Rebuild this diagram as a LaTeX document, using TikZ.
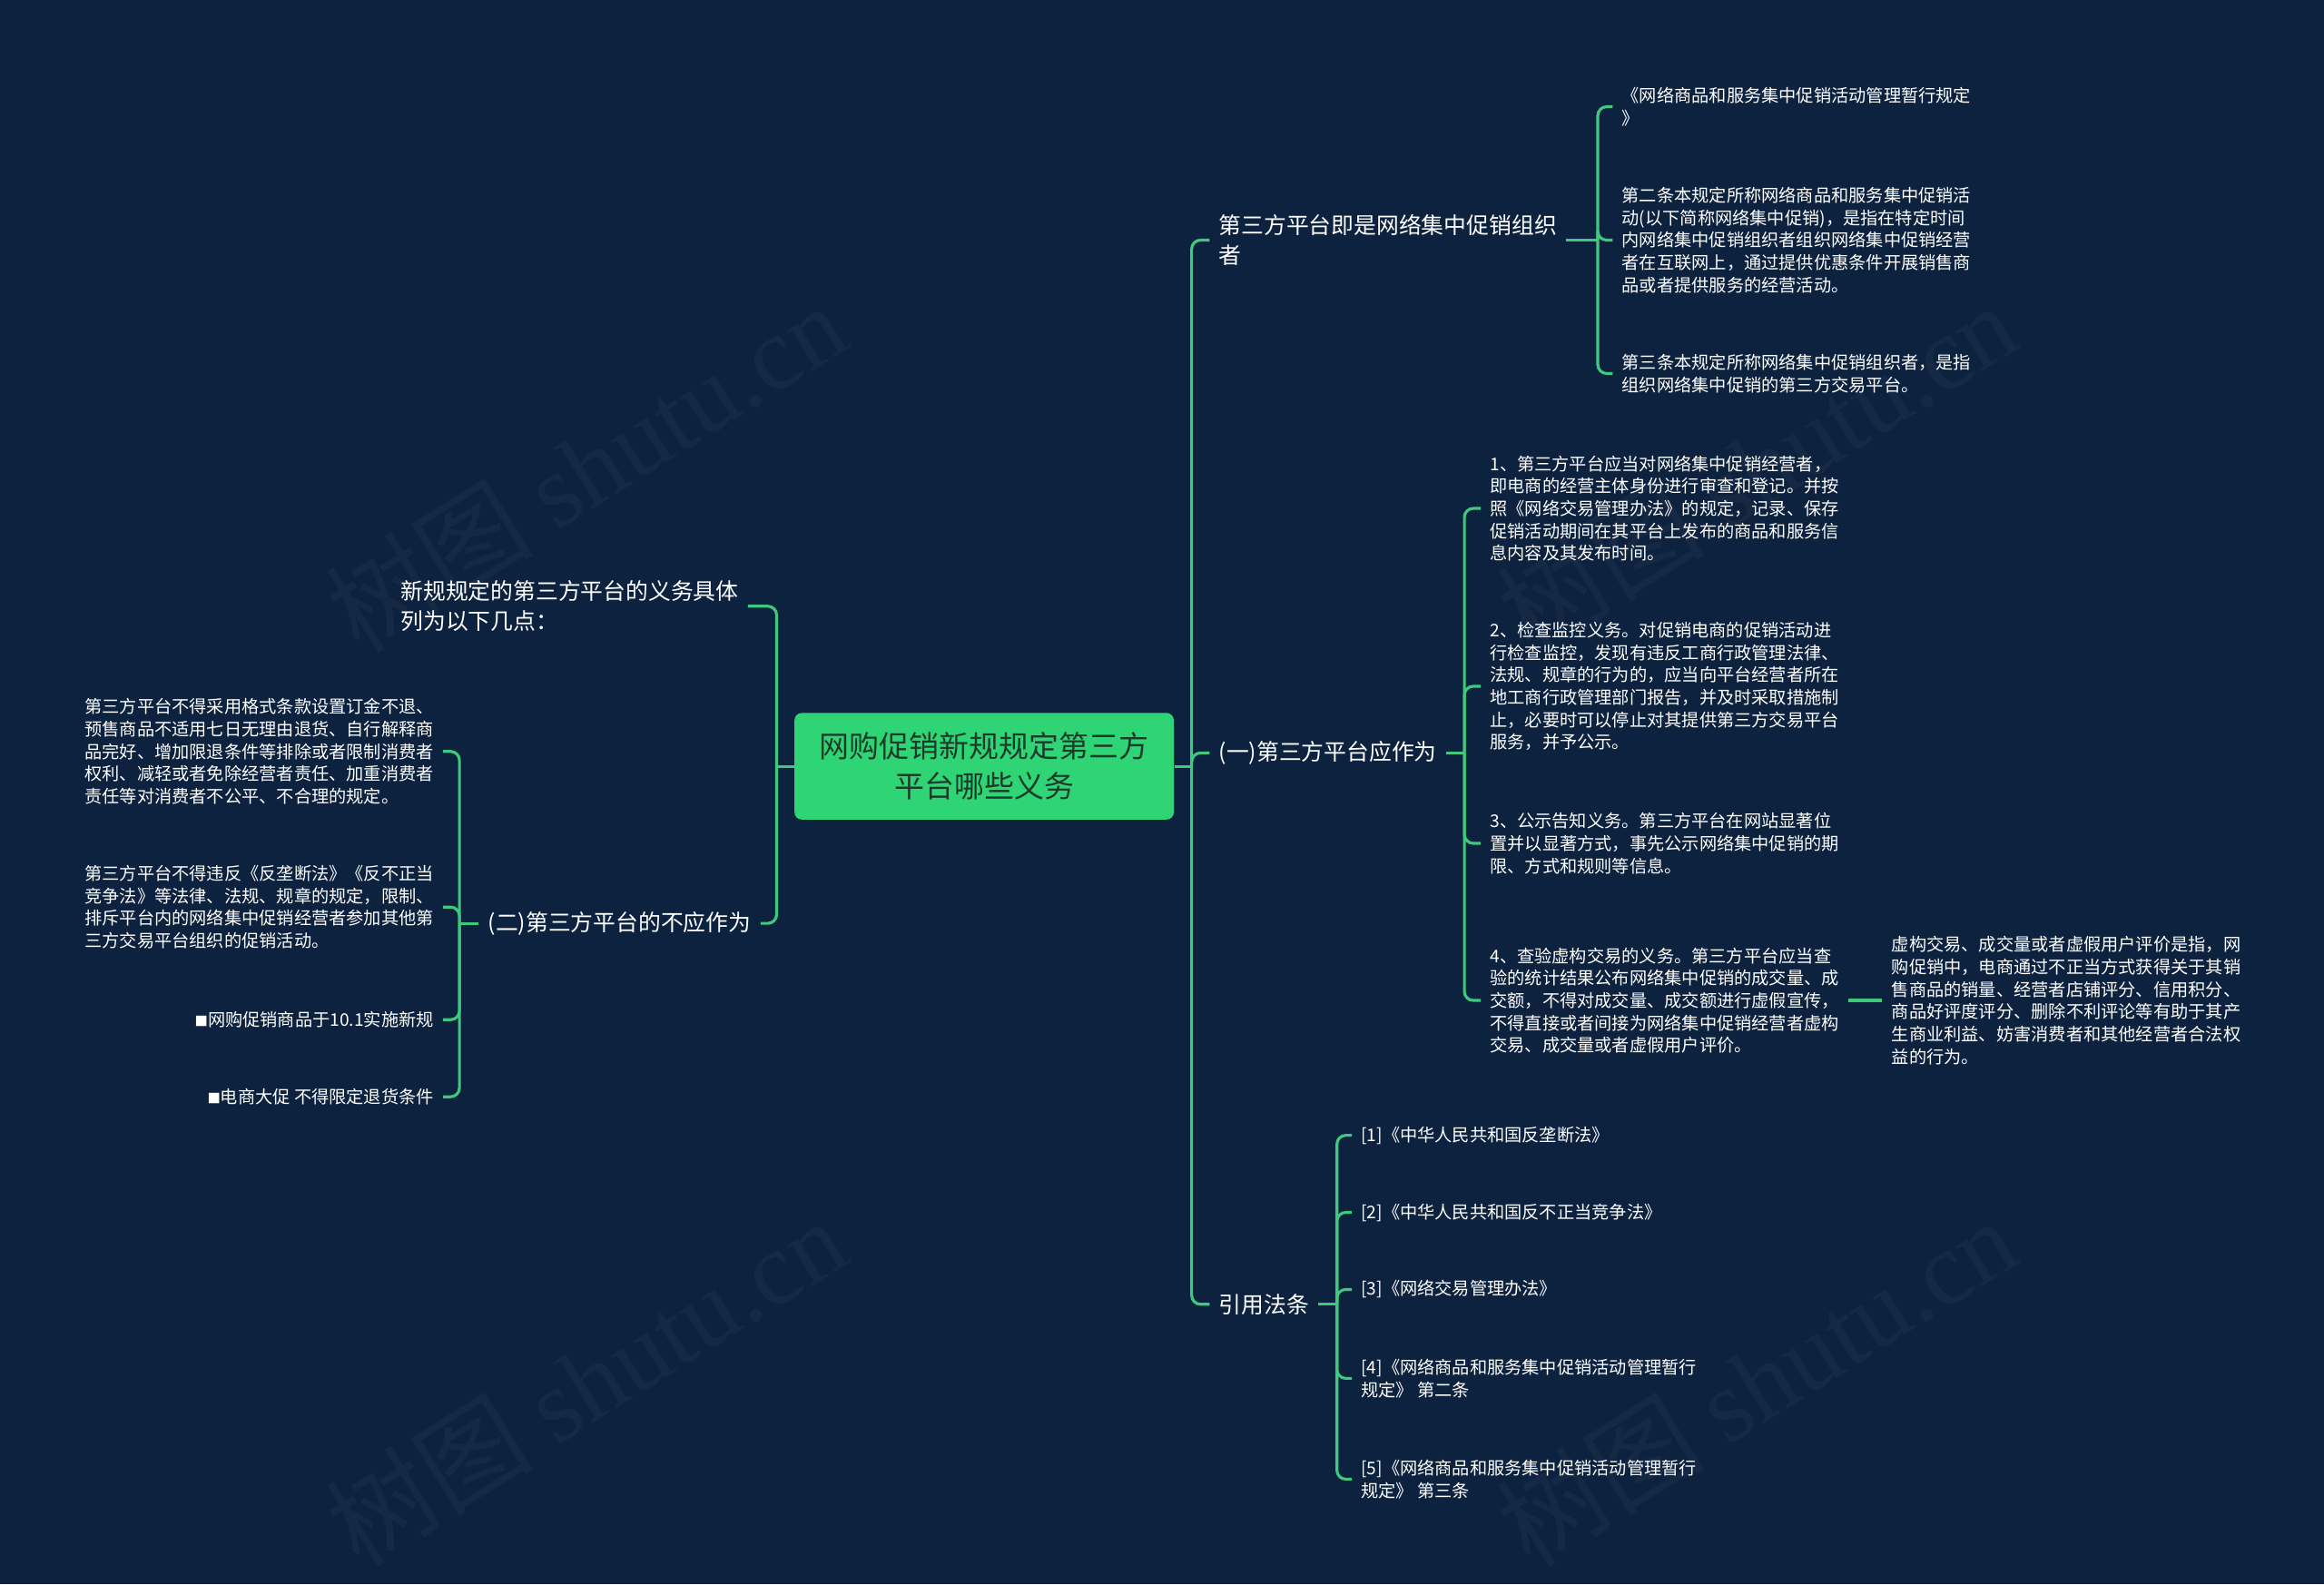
\documentclass[tikz,border=0pt]{standalone}
\usepackage{fontspec}
\setmainfont{Noto Sans CJK SC}
\newfontfamily\wmserif{Liberation Serif}
\definecolor{bgnavy}{HTML}{0D223F}
\definecolor{linkgreen}{HTML}{3FC97D}
\definecolor{rootgreen}{HTML}{2FD574}
\definecolor{roottext}{HTML}{1C3B2B}
\newcommand{\sqmark}{{\fontsize{5}{5}\selectfont ■}}

\begin{document}
\begin{tikzpicture}[x=0.02cm, y=-0.02cm,
  small/.style={text=white, inner xsep=0.12cm, inner ysep=0pt, align=left, font=\fontsize{6.7}{8.6}\selectfont},
  mid/.style={text=white, inner xsep=0.12cm, inner ysep=0pt, align=left, font=\fontsize{8.65}{11.4}\selectfont},
  rootbox/.style={fill=rootgreen, rounded corners=0.1cm, text=roottext, minimum width=5.12cm, minimum height=1.44cm, align=center, font=\fontsize{11.5}{15.4}\selectfont},
  link/.style={draw=linkgreen, line width=1.1pt, rounded corners=0.12cm},
  wmark/.style={text=white, text opacity=0.035, rotate=32, font=\fontsize{40}{40}\selectfont}]
  \useasboundingbox (0,0) rectangle (1568,1069);
  \fill[bgnavy] (0,0) rectangle (1568,1069);
  \node[wmark] (wm1) at (395,315) {树图 {\wmserif shutu.cn}};
  \node[wmark] (wm2) at (395,932) {树图 {\wmserif shutu.cn}};
  \node[wmark] (wm3) at (1185,315) {树图 {\wmserif shutu.cn}};
  \node[wmark] (wm4) at (1185,932) {树图 {\wmserif shutu.cn}};

  \node[rootbox] (root) at (664,517) {网购促销新规规定第三方\\平台哪些义务};

  \node[mid, anchor=west] (r1) at (816,162) {第三方平台即是网络集中促销组织\\者};
  \node[mid, anchor=west] (r2) at (816,508) {(一)第三方平台应作为};
  \node[mid, anchor=west] (r3) at (816,880) {引用法条};

  \node[small, anchor=west] (c1) at (1088,72) {《网络商品和服务集中促销活动管理暂行规定\\》};
  \node[small, anchor=west] (c2) at (1088,162) {第二条本规定所称网络商品和服务集中促销活\\动(以下简称网络集中促销)，是指在特定时间\\内网络集中促销组织者组织网络集中促销经营\\者在互联网上，通过提供优惠条件开展销售商\\品或者提供服务的经营活动。};
  \node[small, anchor=west] (c3) at (1088,252) {第三条本规定所称网络集中促销组织者，是指\\组织网络集中促销的第三方交易平台。};

  \node[small, anchor=west] (a1) at (999,343) {1、第三方平台应当对网络集中促销经营者，\\即电商的经营主体身份进行审查和登记。并按\\照《网络交易管理办法》的规定，记录、保存\\促销活动期间在其平台上发布的商品和服务信\\息内容及其发布时间。};
  \node[small, anchor=west] (a2) at (999,463) {2、检查监控义务。对促销电商的促销活动进\\行检查监控，发现有违反工商行政管理法律、\\法规、规章的行为的，应当向平台经营者所在\\地工商行政管理部门报告，并及时采取措施制\\止，必要时可以停止对其提供第三方交易平台\\服务，并予公示。};
  \node[small, anchor=west] (a3) at (999,569) {3、公示告知义务。第三方平台在网站显著位\\置并以显著方式，事先公示网络集中促销的期\\限、方式和规则等信息。};
  \node[small, anchor=west] (a4) at (999,675) {4、查验虚构交易的义务。第三方平台应当查\\验的统计结果公布网络集中促销的成交量、成\\交额，不得对成交量、成交额进行虚假宣传，\\不得直接或者间接为网络集中促销经营者虚构\\交易、成交量或者虚假用户评价。};
  \node[small, anchor=west] (d1) at (1270,675) {虚构交易、成交量或者虚假用户评价是指，网\\购促销中，电商通过不正当方式获得关于其销\\售商品的销量、经营者店铺评分、信用积分、\\商品好评度评分、删除不利评论等有助于其产\\生商业利益、妨害消费者和其他经营者合法权\\益的行为。};

  \node[small, anchor=west] (e1) at (912,766) {[1]《中华人民共和国反垄断法》};
  \node[small, anchor=west] (e2) at (912,818) {[2]《中华人民共和国反不正当竞争法》};
  \node[small, anchor=west] (e3) at (912,870) {[3]《网络交易管理办法》};
  \node[small, anchor=west] (e4) at (912,930) {[4]《网络商品和服务集中促销活动管理暂行\\规定》 第二条};
  \node[small, anchor=west] (e5) at (912,998) {[5]《网络商品和服务集中促销活动管理暂行\\规定》 第三条};

  \node[mid, anchor=west] (l1) at (264,409) {新规规定的第三方平台的义务具体\\列为以下几点：};
  \node[mid, anchor=west] (l2) at (323,623) {(二)第三方平台的不应作为};

  \node[small, anchor=east] (b1) at (299,507) {第三方平台不得采用格式条款设置订金不退、\\预售商品不适用七日无理由退货、自行解释商\\品完好、增加限退条件等排除或者限制消费者\\权利、减轻或者免除经营者责任、加重消费者\\责任等对消费者不公平、不合理的规定。};
  \node[small, anchor=east] (b2) at (299,612) {第三方平台不得违反《反垄断法》《反不正当\\竞争法》等法律、法规、规章的规定，限制、\\排斥平台内的网络集中促销经营者参加其他第\\三方交易平台组织的促销活动。};
  \node[small, anchor=east] (b3) at (299,688) {\sqmark 网购促销商品于10.1实施新规};
  \node[small, anchor=east] (b4) at (299,740) {\sqmark 电商大促 不得限定退货条件};

  \coordinate (jr) at (804,517);
  \coordinate (jl) at (524,517);
  \coordinate (j1) at (1078,162);
  \coordinate (j2) at (988,508);
  \coordinate (j3) at (902,880);
  \coordinate (j4) at (310,623);

  \draw[link] (root.east) -- (jr);
  \foreach \n in {r1,r2,r3} \draw[link] (jr) |- (\n.west);
  \draw[link] (root.west) -- (jl);
  \foreach \n in {l1,l2} \draw[link] (jl) |- (\n.east);
  \draw[link] (r1.east) -- (j1);
  \foreach \n in {c1,c2,c3} \draw[link] (j1) |- (\n.west);
  \draw[link] (r2.east) -- (j2);
  \foreach \n in {a1,a2,a3,a4} \draw[link] (j2) |- (\n.west);
  \draw[link] (a4.east) -- (d1.west);
  \draw[link] (r3.east) -- (j3);
  \foreach \n in {e1,e2,e3,e4,e5} \draw[link] (j3) |- (\n.west);
  \draw[link] (l2.west) -- (j4);
  \foreach \n in {b1,b2,b3,b4} \draw[link] (j4) |- (\n.east);
\end{tikzpicture}
\end{document}
